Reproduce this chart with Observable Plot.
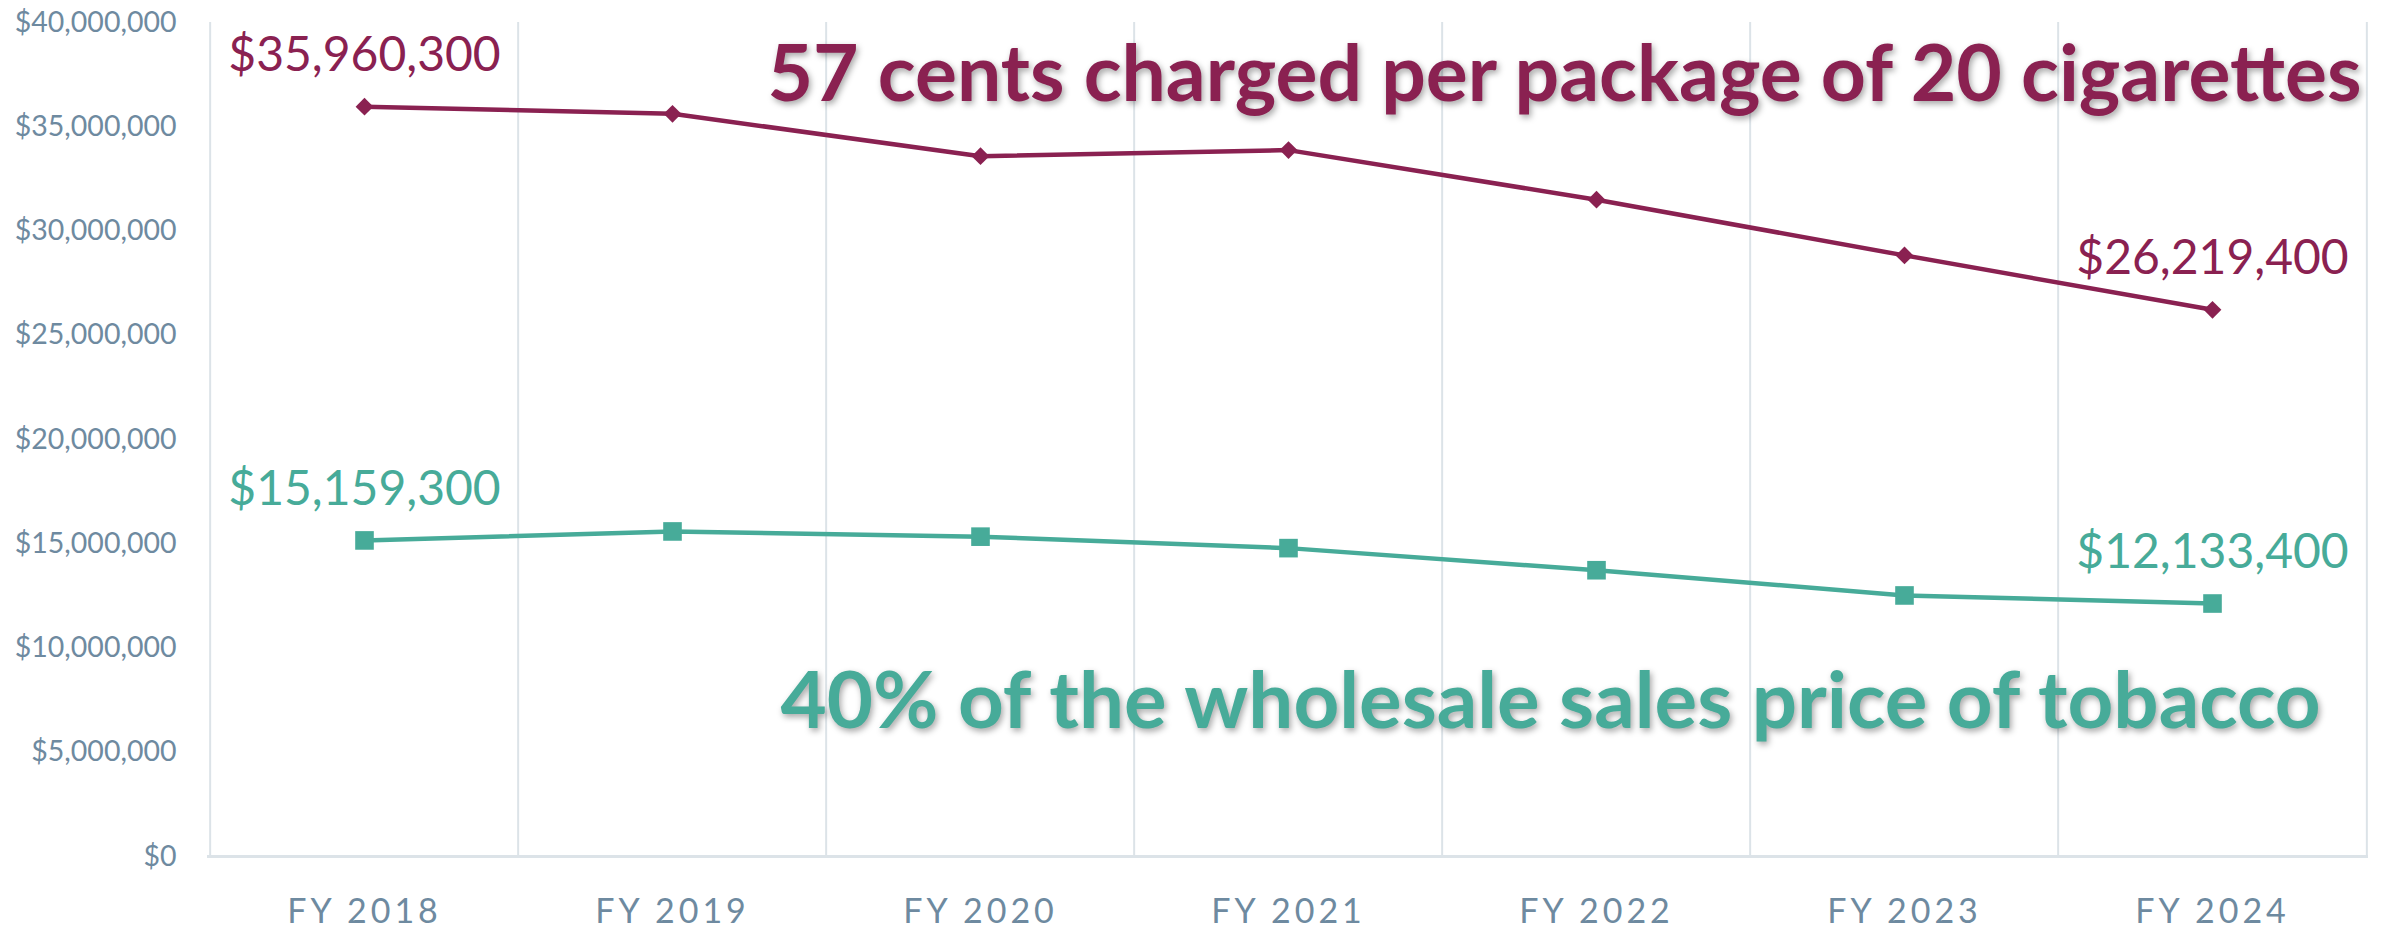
<!DOCTYPE html>
<html>
<head>
<meta charset="utf-8">
<script src="https://cdn.jsdelivr.net/npm/d3@7"></script>
<script src="https://cdn.jsdelivr.net/npm/@observablehq/plot@0.6"></script>
<style>
  html, body { margin: 0; padding: 0; background: #fff; }
  #chart svg { display: block; }
</style>
</head>
<body>
<div id="chart"></div>
<script>
const years = ["FY 2018", "FY 2019", "FY 2020", "FY 2021", "FY 2022", "FY 2023", "FY 2024"];
const perPackage = [35960300, 35620000, 33590000, 33880000, 31500000, 28830000, 26219400];
const wholesale = [15159300, 15590000, 15340000, 14790000, 13730000, 12520000, 12133400];
const yTicks = [0, 5000000, 10000000, 15000000, 20000000, 25000000, 30000000, 35000000, 40000000];
const titlePerPackage = "57 cents charged per package of 20 cigarettes";
const titleWholesale = "40% of the wholesale sales price of tobacco";

const maroon = "#8a2151";
const teal = "#47ab99";
const grid = "#dce3e8";
const tickColor = "#6e8aa0";

const rowsA = years.map((year, i) => ({year, value: perPackage[i]}));
const rowsB = years.map((year, i) => ({year, value: wholesale[i]}));
const ends = (rows) => [rows[0], rows[rows.length - 1]];

const W = 2392, H = 933;
const mL = 207, mR = 24, mT = 22, mB = 77;
const step = (W - mL - mR) / years.length;
const fmt = d3.format("$,");

const plot = Plot.plot({
  width: W,
  height: H,
  marginLeft: mL,
  marginRight: mR,
  marginTop: mT,
  marginBottom: mB,
  style: {fontFamily: "Lato, 'Open Sans', sans-serif", background: "#fff"},
  x: {type: "point", domain: years, padding: 0.5, label: null},
  y: {domain: [0, 40000000], label: null},
  marks: [
    Plot.ruleX(years, {x: d => d, dx: -step / 2, stroke: grid, strokeWidth: 2}),
    Plot.ruleX([years[years.length - 1]], {x: d => d, dx: step / 2, stroke: grid, strokeWidth: 2}),
    Plot.ruleY([0], {stroke: grid, strokeWidth: 3}),
    Plot.axisY({ticks: yTicks, tickFormat: fmt, tickSize: 0, tickPadding: 31, fontSize: 28.5, fill: tickColor}),
    Plot.axisX({tickSize: 0, tickPadding: 42, fontSize: 34, fill: tickColor}),
    Plot.line(rowsA, {x: "year", y: "value", stroke: maroon, strokeWidth: 4.5}),
    Plot.dot(rowsA, {x: "year", y: "value", symbol: "diamond2", r: 8, fill: maroon, stroke: "none"}),
    Plot.line(rowsB, {x: "year", y: "value", stroke: teal, strokeWidth: 4.5}),
    Plot.dot(rowsB, {x: "year", y: "value", symbol: "square", r: 10.5, fill: teal, stroke: "none"}),
    Plot.text(ends(rowsA), {x: "year", y: "value", text: d => fmt(d.value), dy: -51, lineAnchor: "middle", fill: maroon, fontSize: 48}),
    Plot.text(ends(rowsB), {x: "year", y: "value", text: d => fmt(d.value), dy: -51, lineAnchor: "middle", fill: teal, fontSize: 48}),
    Plot.text([titlePerPackage], {text: d => d, frameAnchor: "top-right", dx: -7, dy: 54, lineAnchor: "middle", textAnchor: "end", fill: maroon, fontSize: 78, fontWeight: "bold", className: "big-a"}),
    Plot.text([titleWholesale], {text: d => d, frameAnchor: "bottom-right", dx: -48, dy: -153, lineAnchor: "middle", textAnchor: "end", fill: teal, fontSize: 78, fontWeight: "bold", className: "big-b"})
  ]
});

const svg = d3.select(plot);
svg.selectAll("g[aria-label='x-axis tick label'] text").style("letter-spacing", "4px");
svg.selectAll(".big-a text").attr("textLength", 1594).attr("lengthAdjust", "spacingAndGlyphs")
  .style("filter", "drop-shadow(2px 3px 3px rgba(0,0,0,0.35))");
svg.selectAll(".big-b text").attr("textLength", 1540).attr("lengthAdjust", "spacingAndGlyphs")
  .style("filter", "drop-shadow(2px 3px 3px rgba(0,0,0,0.35))");

document.getElementById("chart").appendChild(plot);
</script>
</body>
</html>
